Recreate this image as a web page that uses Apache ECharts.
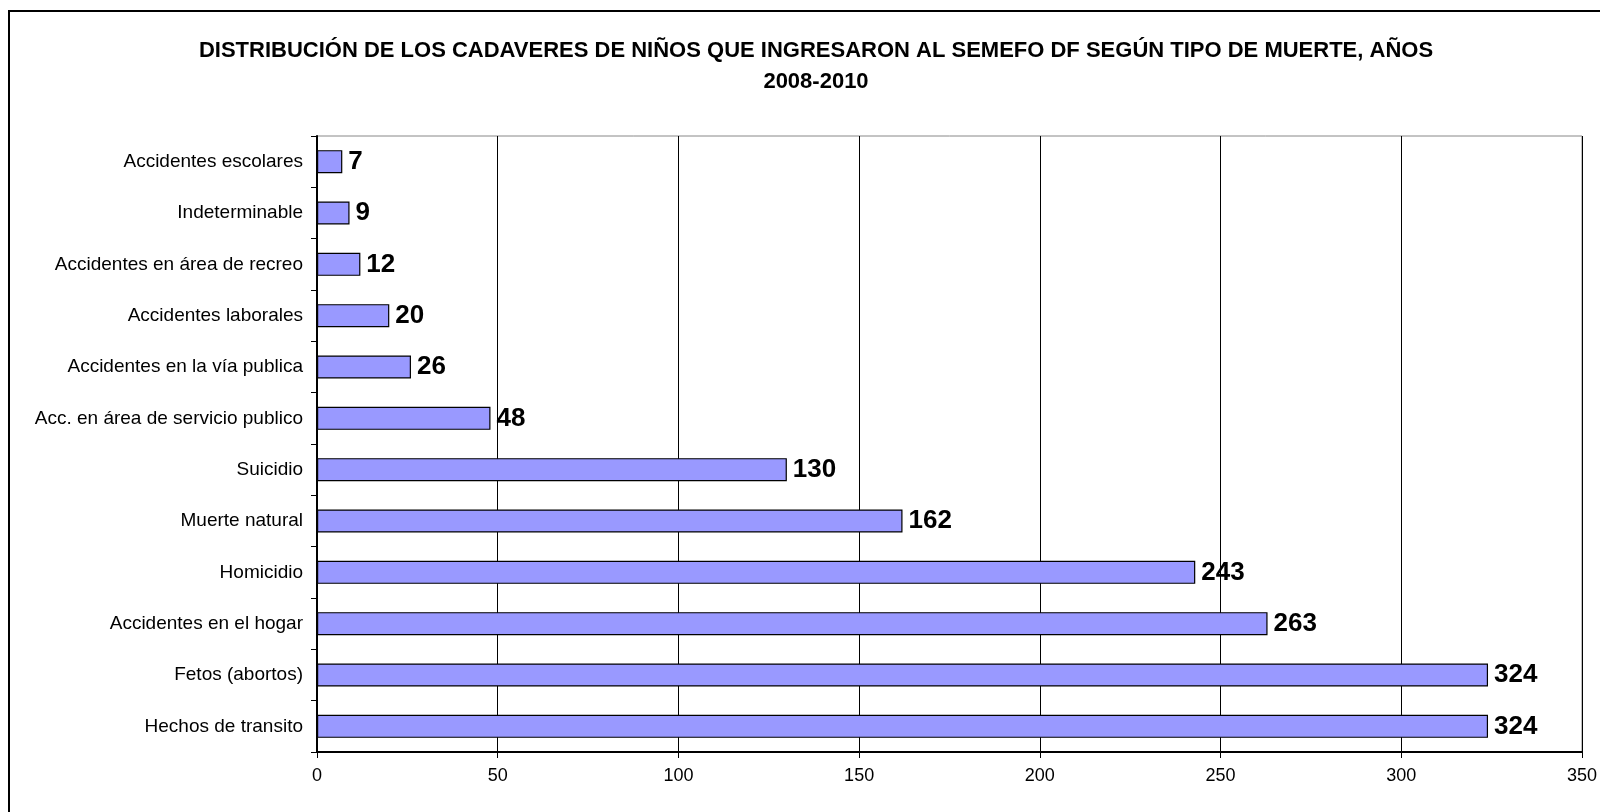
<!DOCTYPE html>
<html>
<head>
<meta charset="utf-8">
<script src="https://cdn.jsdelivr.net/npm/echarts@6/dist/echarts.min.js"></script>
<style>
  html, body { margin: 0; padding: 0; background: #fff; }
  #chart { width: 1600px; height: 812px; }
</style>
</head>
<body>
<div id="chart"></div>
<script>
// categories from top to bottom, as in the picture
const categories = [
  'Accidentes escolares',
  'Indeterminable',
  'Accidentes en área de recreo',
  'Accidentes laborales',
  'Accidentes en la vía publica',
  'Acc. en área de servicio publico',
  'Suicidio',
  'Muerte natural',
  'Homicidio',
  'Accidentes en el hogar',
  'Fetos (abortos)',
  'Hechos de transito',
]
const deaths = [7, 9, 12, 20, 26, 48, 130, 162, 243, 263, 324, 324]
const xTicks = [0, 50, 100, 150, 200, 250, 300, 350]

const chart = echarts.init(document.getElementById('chart'))
const font = 'Liberation Sans, Arial, sans-serif'

const option = {
  animation: false,
  title: {
    text: 'DISTRIBUCIÓN DE LOS CADAVERES DE NIÑOS QUE INGRESARON AL SEMEFO DF SEGÚN TIPO DE MUERTE, AÑOS\n2008-2010',
    left: 811,
    top: 30,
    textAlign: 'center',
    textStyle: {
      fontFamily: font,
      fontWeight: 'bold',
      fontSize: 22,
      lineHeight: 31,
      color: '#000',
    },
  },
  graphic: [
    {
      type: 'rect',
      shape: { x: 9, y: 11, width: 1620, height: 900 },
      style: { fill: 'none', stroke: '#000', lineWidth: 2 },
      silent: true,
    },
  ],
  grid: {
    left: 317,
    right: 18,
    top: 136,
    bottom: 60,
    show: true,
    borderColor: '#888',
    borderWidth: 1,
  },
  xAxis: {
    type: 'value',
    min: xTicks[0],
    max: xTicks[xTicks.length - 1],
    interval: 50,
    axisLine: { show: true, lineStyle: { color: '#000', width: 2 } },
    axisTick: { show: true, length: 6, lineStyle: { color: '#000' } },
    axisLabel: {
      margin: 15,
      fontFamily: font,
      fontSize: 18,
      color: '#000',
    },
    splitLine: { show: true, lineStyle: { color: '#000', width: 1 } },
  },
  yAxis: {
    type: 'category',
    data: categories,
    inverse: true,
    axisLine: { show: true, lineStyle: { color: '#000', width: 2 } },
    axisTick: { show: true, length: 6, lineStyle: { color: '#000' } },
    axisLabel: {
      margin: 14,
      fontFamily: font,
      fontSize: 19,
      color: '#000',
    },
    splitLine: { show: false },
  },
  series: [
    {
      type: 'bar',
      data: deaths,
      barWidth: 23,
      itemStyle: {
        color: '#9999ff',
        borderColor: '#000',
        borderWidth: 1.2,
      },
      label: {
        show: true,
        position: 'right',
        distance: 6,
        fontFamily: font,
        fontWeight: 'bold',
        fontSize: 26,
        color: '#000',
      },
    },
  ],
}
chart.setOption(option)
</script>
</body>
</html>
